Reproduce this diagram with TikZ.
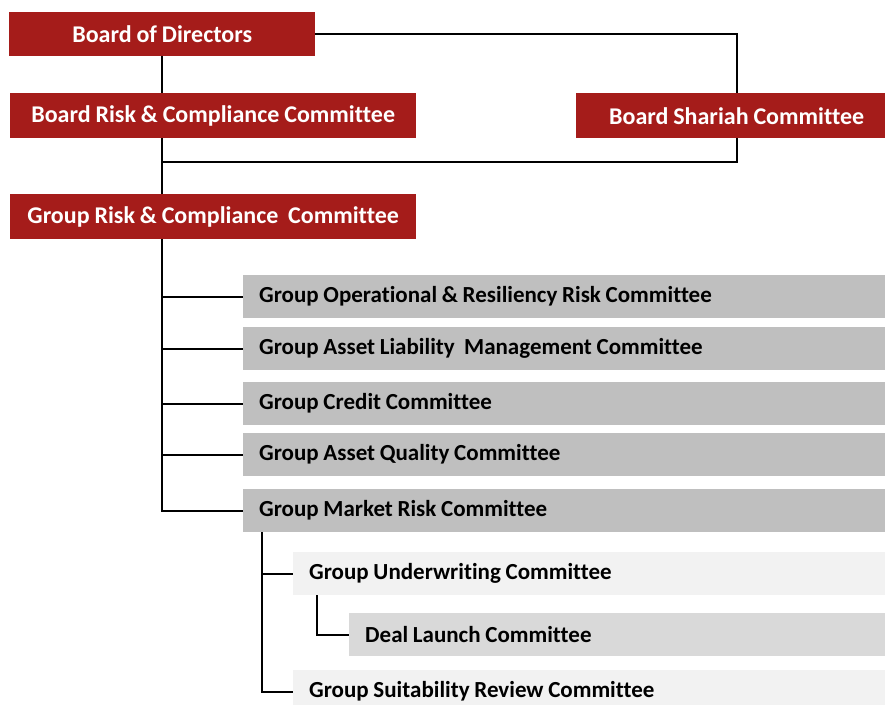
\documentclass[tikz,border=0pt]{standalone}
\usepackage{fontspec}
\setmainfont[Ligatures=NoCommon,WordSpace=0.9]{Carlito}
\definecolor{boardred}{HTML}{A51C1A}
\definecolor{midgrey}{HTML}{BFBFBF}
\definecolor{palegrey}{HTML}{F2F2F2}
\definecolor{lightgrey}{HTML}{D9D9D9}
\begin{document}
\begin{tikzpicture}[x=1pt,y=-1pt]
\tikzstyle{redbox}=[rectangle,fill=boardred,text=white,anchor=north west,inner sep=0pt,minimum height=44pt,font=\fontsize{24}{27}\selectfont\bfseries]
\tikzstyle{greybox}=[rectangle,fill=midgrey,text=black,anchor=north west,inner xsep=16pt,inner ysep=0pt,minimum height=43pt,align=flush left,font=\fontsize{23}{26}\selectfont\bfseries]
\tikzstyle{link}=[draw=black,line width=2pt]
\clip (0,0) rectangle (885,704);
\node[redbox,minimum width=306pt] (bod) at (9,12) {Board of Directors};
\node[redbox,minimum width=406pt,minimum height=45pt] (brc) at (10,93) {Board Risk \& Compliance Committee};
\node[redbox,minimum width=309pt,minimum height=45pt] (bsc) at (576,93) {\hspace{12pt}Board Shariah Committee};
\node[redbox,minimum width=406pt,minimum height=45pt] (grc) at (10,194) {Group Risk \& Compliance\ \ Committee};
\node[greybox,text width=610pt] (ops) at (243,275) {Group Operational \& Resiliency Risk Committee};
\node[greybox,text width=610pt] (alm) at (243,327) {Group Asset Liability\ \ Management Committee};
\node[greybox,text width=610pt] (crd) at (243,382) {Group Credit Committee};
\node[greybox,text width=610pt] (aq) at (243,433) {Group Asset Quality Committee};
\node[greybox,text width=610pt] (mkt) at (243,489) {Group Market Risk Committee};
\node[greybox,fill=palegrey,text width=560pt] (uw) at (293,552) {Group Underwriting Committee};
\node[greybox,fill=lightgrey,text width=504pt] (deal) at (349,613) {Deal Launch Committee};
\node[greybox,fill=palegrey,text width=560pt] (suit) at (293,670) {Group Suitability Review Committee};
\coordinate (join) at (162,162);
\draw[link] (bod.south) -- (bod.south |- brc.north);
\draw[link] (bod.south |- brc.south) -- (bod.south |- grc.north);
\draw[link] (bod.east) -| ([xshift=6pt]bsc.north);
\draw[link] ([xshift=6pt]bsc.south) |- (join);
\draw[link] (bod.south |- grc.south) |- (mkt.west);
\foreach \n in {ops,alm,crd,aq}
  \draw[link] (bod.south |- \n.west) -- (\n.west);
\draw[link] ([xshift=19pt]mkt.south west) |- (uw.west);
\draw[link] ([xshift=19pt]mkt.south west) |- (suit.west);
\draw[link] ([xshift=24pt]uw.south west) |- (deal.west);
\end{tikzpicture}
\end{document}
